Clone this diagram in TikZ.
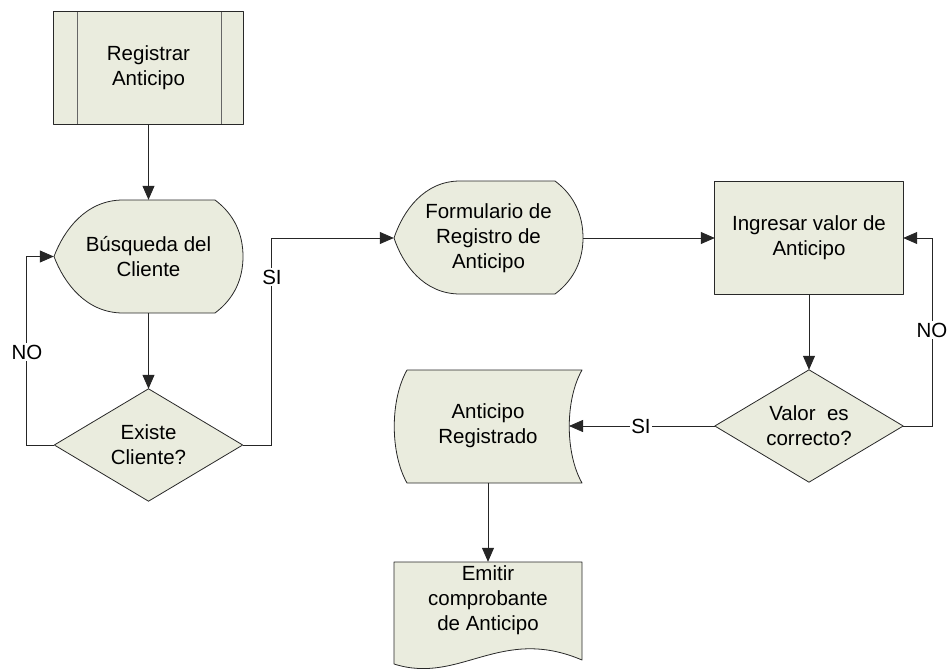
\documentclass[tikz,border=0pt]{standalone}
\usepackage{fontspec}
\setmainfont{Liberation Sans}
\usetikzlibrary{arrows.meta,backgrounds}
\definecolor{shapefill}{RGB}{234,236,222}
\definecolor{shapeline}{RGB}{40,40,40}
\begin{document}
\begin{tikzpicture}[x=1pt,y=-1pt,
  txt/.style={font=\fontsize{20.5}{25}\selectfont, align=center, inner sep=0pt, text=black},
  outline/.style={draw=shapeline, fill=shapefill, line width=0.8pt, line join=round},
  inner/.style={draw=black!60, line width=0.8pt},
  plain/.style={draw=black!85, line width=0.8pt},
  flow/.style={plain, -{Triangle[length=14pt,width=12pt]}},
  lbl/.style={font=\fontsize{20.5}{25}\selectfont, fill=white, inner sep=1.5pt}]
\useasboundingbox (0,0) rectangle (948,669);

% process nodes (text and anchors)
\node[txt, minimum width=189pt, minimum height=112pt] (reg) at (148.5,68) {Registrar\\Anticipo};
\node[txt, minimum width=189pt, minimum height=113pt] (bus) at (148.5,256.5) {Búsqueda del\\Cliente};
\node[txt, minimum width=188pt, minimum height=112pt] (exi) at (148.5,445) {Existe\\Cliente?};
\node[txt, minimum width=189pt, minimum height=113pt] (form) at (488.5,238) {Formulario de\\Registro de\\Anticipo};
\node[txt, minimum width=188pt, minimum height=112pt] (ing) at (809,238) {Ingresar valor de\\Anticipo};
\node[txt, minimum width=188pt, minimum height=112pt] (val) at (809,426) {Valor\ \ es\\correcto?};
\node[txt, minimum width=188pt, minimum height=113pt] (ant) at (488,426) {Anticipo\\Registrado};
\node[txt, minimum width=188pt, minimum height=76pt] (doc) at (488,600) {Emitir\\comprobante\\de Anticipo};
\coordinate (antR) at (569,426);

% outlines
\begin{scope}[on background layer]
  % predefined process
  \draw[outline] (reg.north west) rectangle (reg.south east);
  \draw[inner] (77,12) -- (77,124);
  \draw[inner] (221,12) -- (221,124);
  % display: Busqueda del Cliente
  \draw[outline] (123,200) -- (215,200)
    .. controls (235,215) and (243,235) .. (243,256.5)
    .. controls (243,278) and (235,298) .. (215,313) -- (123,313)
    .. controls (86,313) and (64,283) .. (54,256.5)
    .. controls (64,230) and (86,200) .. (123,200) -- cycle;
  % decision: Existe Cliente?
  \draw[outline] (exi.west) -- (exi.north) -- (exi.east) -- (exi.south) -- cycle;
  % display: Formulario
  \draw[outline] (460,181) -- (555,181)
    .. controls (575,196) and (583,216) .. (583,238)
    .. controls (583,259) and (575,279) .. (555,294) -- (460,294)
    .. controls (424,294) and (403,265) .. (394,238)
    .. controls (403,211) and (424,181) .. (460,181) -- cycle;
  % process: Ingresar valor
  \draw[outline] (ing.north west) rectangle (ing.south east);
  % decision: Valor es correcto?
  \draw[outline] (val.west) -- (val.north) -- (val.east) -- (val.south) -- cycle;
  % stored data: Anticipo Registrado
  \draw[outline] (407,370) -- (582,370)
    .. controls (565,400) and (565,453) .. (582,483) -- (407,483)
    .. controls (390,453) and (390,400) .. (407,370) -- cycle;
  % document: Emitir comprobante
  \draw[outline] (394,562) -- (582,562) -- (582,660)
    .. controls (500,625) and (460,685) .. (394,664) -- cycle;
\end{scope}

% connectors
\draw[flow] (reg.south) -- (bus.north);
\draw[flow] (bus.south) -- (exi.north);
\draw[flow] (exi.west) -- ++(-28,0) |- (bus.west);
\draw[flow] (exi.east) -- ++(29,0) |- (form.west);
\draw[flow] (form.east) -- (ing.west);
\draw[flow] (ing.south) -- (val.north);
\draw[flow] (val.east) -- ++(29,0) |- (ing.east);
\draw[flow] (val.west) -- (antR);
\draw[flow] (ant.south) -- (doc.north);

% branch labels
\node[lbl] (noA) at (27,352) {NO};
\node[lbl] (siA) at (272,277) {SI};
\node[lbl] (noB) at (932,330) {NO};
\node[lbl] (siB) at (641,426) {SI};
\end{tikzpicture}
\end{document}
